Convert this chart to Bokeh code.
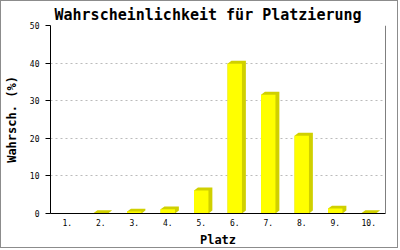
from bokeh.plotting import figure
from bokeh.models import Range1d, FixedTicker, Span
from bokeh.embed import file_html
from bokeh.resources import INLINE

title = "Wahrscheinlichkeit für Platzierung"
places = [1, 2, 3, 4, 5, 6, 7, 8, 9, 10]
place_labels = ["1.", "2.", "3.", "4.", "5.", "6.", "7.", "8.", "9.", "10."]
probabilities = [0.0, 0.1, 0.5, 1.1, 6.1, 39.8, 31.6, 20.7, 1.3, 0.1]
y_ticks = [0, 10, 20, 30, 40, 50]

FONT = "DejaVu Sans Mono"
FRONT = "#FFFF00"
SHADE = "#D0D000"

p = figure(width=398, height=248, output_backend="svg", toolbar_location=None,
           x_range=Range1d(0.5, 10.5), y_range=Range1d(0, 50),
           min_border_left=42, min_border_right=14, min_border_top=24, min_border_bottom=35)
p.styles = {"border": "1px solid #8c8c8c"}
p.outline_line_color = None
p.background_fill_color = "white"
p.border_fill_color = "white"

# title
p.title.text = title
p.title.text_font = FONT
p.title.text_font_size = "15px"
p.title.text_font_style = "bold"
p.title.text_color = "black"
p.title.align = "left"
p.title.offset = 4
p.title.standoff = 4

# frame scale in pixels -> data units for 3D offsets
frame_w_px = 342.0
frame_h_px = 189.0
dx = 4.0 * 10.0 / frame_w_px
dy = 3.0 * 50.0 / frame_h_px
bw = 0.43

xs_shade, ys_shade, xs_front, ys_front = [], [], [], []
for x, h in zip(places, probabilities):
    if h <= 0:
        continue
    x0, x1 = x - bw / 2, x + bw / 2
    xs_shade.append([x0, x0, x0 + dx, x1 + dx, x1 + dx, x1])
    ys_shade.append([0, h, h + dy, h + dy, dy, 0])
    xs_front.append([x0, x0, x1, x1])
    ys_front.append([0, h, h, 0])

p.patches(xs_shade, ys_shade, fill_color=SHADE, line_color=None)
p.patches(xs_front, ys_front, fill_color=FRONT, line_color=None)

# grid
p.xgrid.grid_line_color = None
p.ygrid.grid_line_color = "#BBBBBB"
p.ygrid.grid_line_dash = "2 3"
p.ygrid.ticker = FixedTicker(ticks=y_ticks[1:])

# right border line
p.add_layout(Span(location=10.5, dimension="height", line_color="black", line_width=1))

# x axis
xa = p.xaxis[0]
xa.ticker = FixedTicker(ticks=places)
xa.major_label_overrides = {pl: lab for pl, lab in zip(places, place_labels)}
xa.major_tick_line_color = None
xa.major_tick_out = 0
xa.major_tick_in = 0
xa.minor_tick_line_color = None
xa.axis_line_color = "black"
xa.major_label_text_font = FONT
xa.major_label_text_font_size = "8px"
xa.major_label_text_color = "black"
xa.major_label_standoff = 5
xa.axis_label = "Platz"
xa.axis_label_text_font = FONT
xa.axis_label_text_font_size = "12px"
xa.axis_label_text_font_style = "bold"
xa.axis_label_text_color = "black"
xa.axis_label_standoff = 4

# y axis
ya = p.yaxis[0]
ya.ticker = FixedTicker(ticks=y_ticks)
ya.major_tick_out = 5
ya.major_tick_in = 0
ya.major_tick_line_color = "black"
ya.minor_tick_line_color = None
ya.axis_line_color = "black"
ya.major_label_text_font = FONT
ya.major_label_text_font_size = "8px"
ya.major_label_text_color = "black"
ya.major_label_standoff = 6
ya.axis_label = "Wahrsch. (%)"
ya.axis_label_text_font = FONT
ya.axis_label_text_font_size = "12px"
ya.axis_label_text_font_style = "bold"
ya.axis_label_text_color = "black"
ya.axis_label_standoff = 8

open("out.html", "w").write(file_html(p, INLINE))
